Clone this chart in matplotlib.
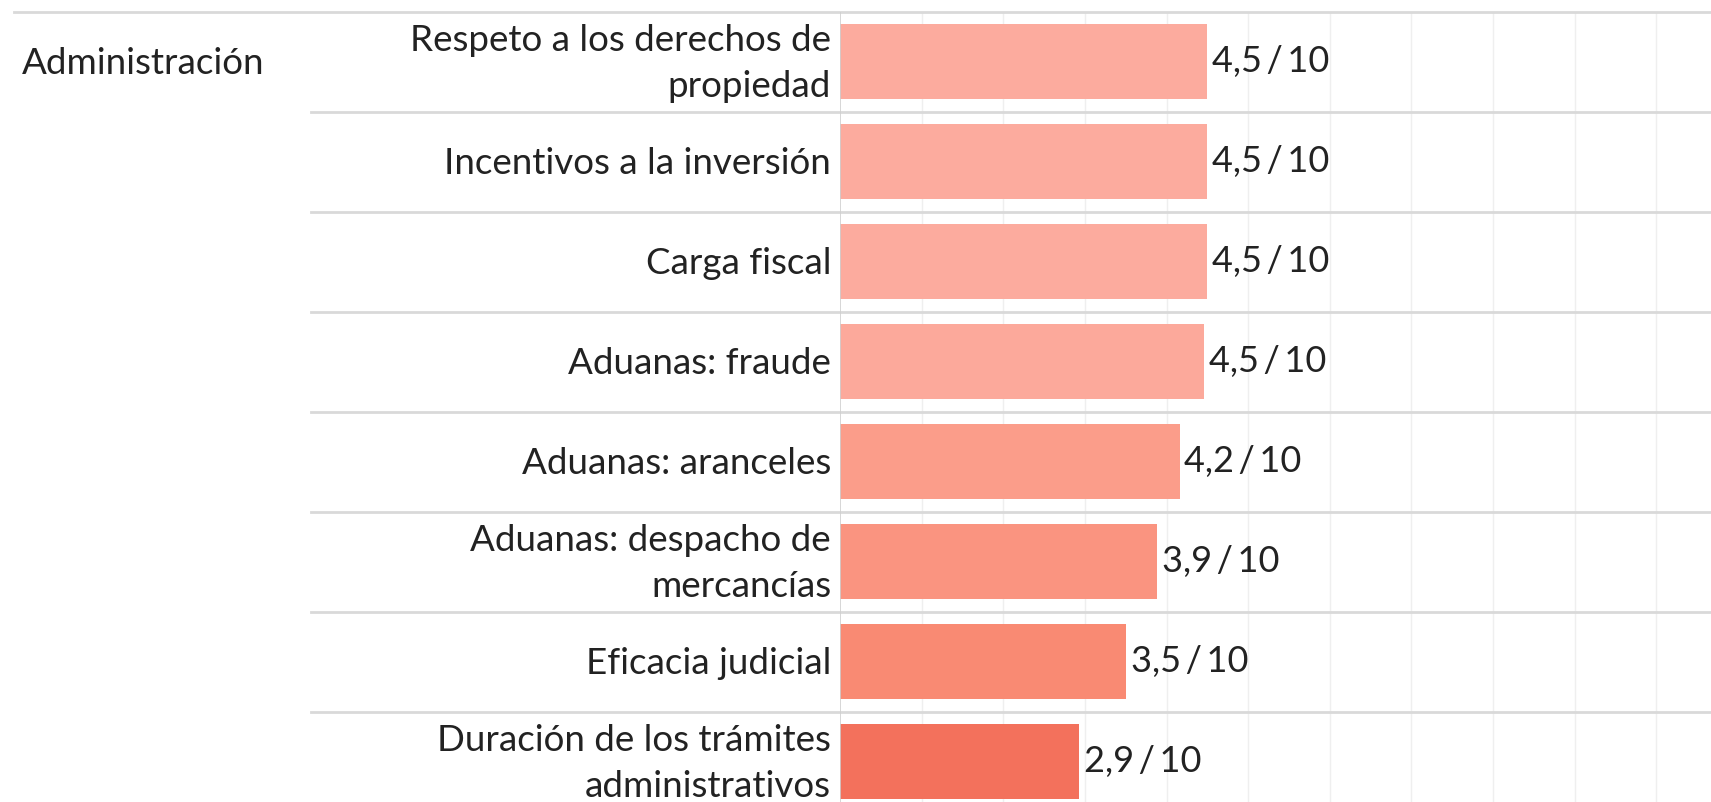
import matplotlib.pyplot as plt
import matplotlib.transforms as mtransforms

plt.rcParams['font.family'] = ['Lato', 'DejaVu Sans']

group = 'Administración'
labels = ['Respeto a los derechos de\npropiedad', 'Incentivos a la inversión', 'Carga fiscal',
          'Aduanas: fraude', 'Aduanas: aranceles', 'Aduanas: despacho de\nmercancías',
          'Eficacia judicial', 'Duración de los trámites\nadministrativos']
values = [4.5, 4.5, 4.5, 4.46, 4.16, 3.88, 3.5, 2.93]
colors = ['#fcab9e', '#fcab9e', '#fcab9e', '#fca99b', '#fb9d8a', '#fa9480', '#f98a73', '#f3715c']

W, H = 1711, 802
fig = plt.figure(figsize=(W / 100, H / 100), dpi=100)
ax = fig.add_axes([840 / W, 0, 1 - 840 / W, 1])
ax.set_xlim(0, 10.67)
ax.set_ylim(7.405, -0.615)
ax.axis('off')

n = len(labels)
ypos = list(range(n))

# light vertical gridlines
ax.vlines(range(1, 11), -0.5, 7.405, color='#efefef', lw=1, zorder=0)
ax.vlines(0, -0.5, 7.405, color='#cfcfcf', lw=1.2, zorder=3)

ax.barh(ypos, values, height=0.75, color=colors, zorder=2)

for y, v in zip(ypos, values):
    ax.text(v + 0.06, y, f'{v:.1f}'.replace('.', ',') + '\u2009/\u200910', va='center', ha='left',
            fontsize=26, color='#222222')

# row separators across the whole figure width
tr = mtransforms.blended_transform_factory(fig.transFigure, ax.transData)
ax.plot([14 / W, 1], [-0.5, -0.5], color='#d9d9d9', lw=2, transform=tr, clip_on=False)
for i in range(1, n):
    ax.plot([311 / W, 1], [i - 0.5, i - 0.5], color='#d9d9d9', lw=2, transform=tr, clip_on=False)

for y, lab in zip(ypos, labels):
    ax.text(831 / W, y + 0.02, lab, transform=tr, ha='right', va='center', fontsize=26.5,
            color='#222222', linespacing=1.5, multialignment='right')

ax.text(22 / W, 0.02, group, transform=tr, ha='left', va='center', fontsize=26.5, color='#222222')

fig.savefig('out.png', dpi=100)
